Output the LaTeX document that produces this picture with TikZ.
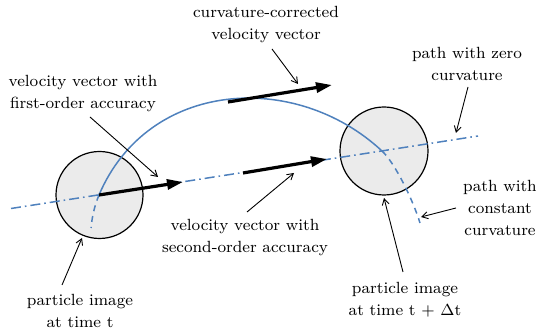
\documentclass[tikz,border=0pt]{standalone}
\usetikzlibrary{arrows.meta}
\definecolor{pathblue}{RGB}{79,129,189}
\definecolor{discgray}{RGB}{235,235,235}
\begin{document}
\begin{tikzpicture}[x=0.5pt,y=-0.5pt,
  lbl/.style={font=\rmfamily\fontsize{8.1}{11}\selectfont, align=center, inner sep=0pt},
  disc/.style={circle, draw=black, line width=0.6pt, fill=discgray, inner sep=0pt},
  zeropath/.style={draw=pathblue, line width=0.75pt, dash pattern=on 5pt off 2pt on 0.8pt off 2pt},
  curvpath/.style={draw=pathblue, line width=0.75pt},
  curvdash/.style={curvpath, dash pattern=on 3pt off 2.5pt},
  velarrow/.style={draw=black, line width=1.6pt, -{Triangle[length=8pt,width=5pt]}},
  pointer/.style={draw=black, line width=0.45pt, -{Straight Barb[length=3pt,width=3.5pt]}}]
\useasboundingbox (0,0) rectangle (536,335);

% particle images
\node[disc, minimum size=43.5pt] (p1) at (99.5,195) {};
\node[disc, minimum size=44pt] (p2) at (384,151) {};

% key points
\coordinate (c1) at (99,195);
\coordinate (c2) at (382,151);
\coordinate (zl) at (11,208.5);
\coordinate (zr) at (478,136);
\coordinate (kl) at (91,228);
\coordinate (kr) at (420,223);

% path with zero curvature
\draw[zeropath] (zl) -- (zr);

% path with constant curvature
\draw[curvpath] (c1) .. controls (148,80) and (295,70) .. (c2);
\draw[curvdash] (c1) .. controls (94,207) and (92,218) .. (kl);
\draw[curvdash] (c2) .. controls (395,163) and (413,200) .. (kr);

% velocity vectors
\coordinate (v1e) at (183,182);
\coordinate (v2s) at (243,173);
\coordinate (v2e) at (327,159);
\coordinate (v3s) at (228,102);
\coordinate (v3e) at (332,85);
\draw[velarrow] (c1) -- (v1e);
\draw[velarrow] (v2s) -- (v2e);
\draw[velarrow] (v3s) -- (v3e);

% labels
\node[lbl] (lcc) at (266,25) {curvature-corrected\\velocity vector};
\node[lbl] (lfo) at (83,94) {velocity vector with\\first-order accuracy};
\node[lbl] (lzc) at (467,64) {path with zero\\curvature};
\node[lbl] (lso) at (245,238) {velocity vector with\\second-order accuracy};
\node[lbl] (lpt) at (80,311) {particle image\\at time t};
\node[lbl] (lpd) at (405,300) {particle image\\at time t + $\Delta$t};
\node[lbl] (lkc) at (500,208) {path with\\constant\\curvature};

% pointers
\coordinate (a1t) at (272,49);  \coordinate (a1h) at (298,84);
\coordinate (a2t) at (90,117);  \coordinate (a2h) at (158,177);
\coordinate (a3t) at (468,87);  \coordinate (a3h) at (456,133);
\coordinate (a4t) at (247,212); \coordinate (a4h) at (294,173);
\coordinate (a5t) at (62,285);  \coordinate (a5h) at (82,238);
\coordinate (a6t) at (403,272); \coordinate (a6h) at (384,198);
\coordinate (a7t) at (456,208); \coordinate (a7h) at (421,217);
\draw[pointer] (a1t) -- (a1h);
\draw[pointer] (a2t) -- (a2h);
\draw[pointer] (a3t) -- (a3h);
\draw[pointer] (a4t) -- (a4h);
\draw[pointer] (a5t) -- (a5h);
\draw[pointer] (a6t) -- (a6h);
\draw[pointer] (a7t) -- (a7h);
\end{tikzpicture}
\end{document}
